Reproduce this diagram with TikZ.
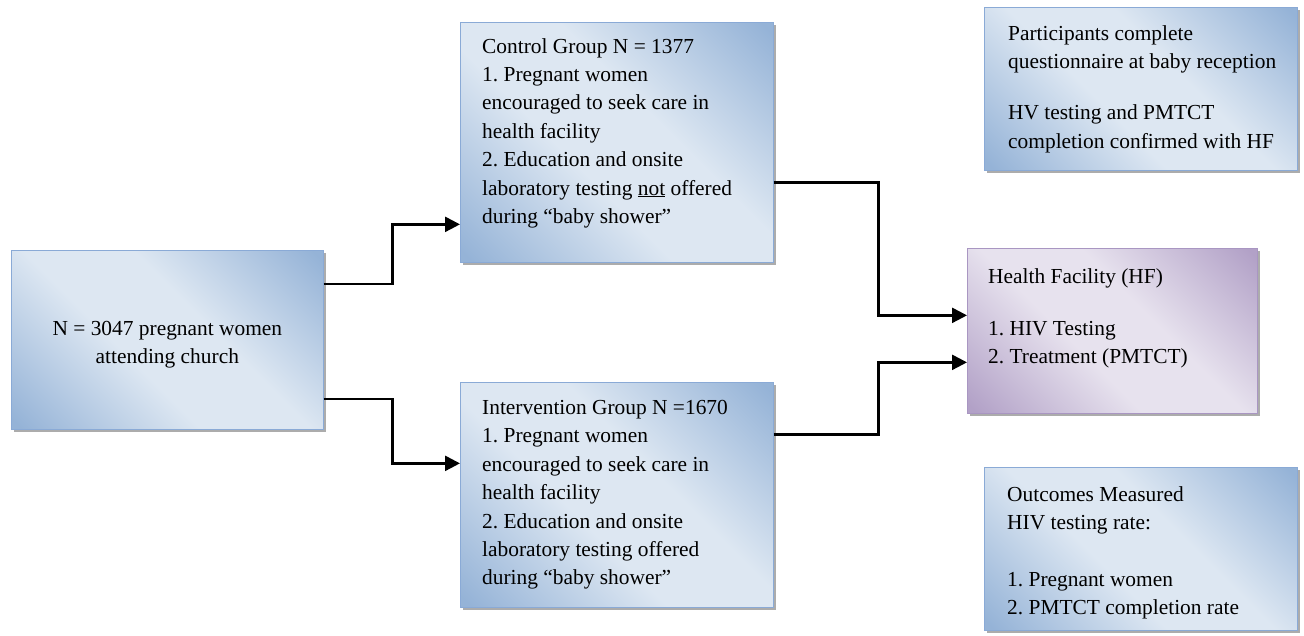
\documentclass[tikz,border=0pt]{standalone}
\usepackage{fontspec}
\setmainfont{Liberation Serif}
\usetikzlibrary{arrows.meta,shadows}
\frenchspacing
\definecolor{BDark}{HTML}{95B3D7}
\definecolor{BLight}{HTML}{DDE7F2}
\definecolor{BEdge}{HTML}{8AAAD6}
\definecolor{PDark}{HTML}{B2A1C7}
\definecolor{PLight}{HTML}{E7E2EE}
\definecolor{PEdge}{HTML}{A996C2}
\pgfdeclarehorizontalshading{bluegrad}{100bp}{color(0bp)=(BDark); color(16bp)=(BDark); color(42bp)=(BLight); color(58bp)=(BLight); color(84bp)=(BDark); color(100bp)=(BDark)}
\pgfdeclarehorizontalshading{purplegrad}{100bp}{color(0bp)=(PDark); color(16bp)=(PDark); color(42bp)=(PLight); color(58bp)=(PLight); color(84bp)=(PDark); color(100bp)=(PDark)}
\tikzset{
    box/.style = {rectangle, inner sep=0pt, line width=0.7pt,
        drop shadow={shadow xshift=3pt, shadow yshift=-3pt, fill=gray!65, opacity=1}},
    bluebox/.style = {box, draw=BEdge, shading=bluegrad, shading angle=45},
    purplebox/.style = {box, draw=PEdge, shading=purplegrad, shading angle=45},
    txt/.style = {inner sep=0pt, align=left, anchor=north west,
        font=\fontsize{21.4}{28.4}\selectfont},
    conn/.style = {draw, line width=2.5pt, -{Triangle[length=15pt,width=15pt]}}
}

\begin{document}
\begin{tikzpicture}[x=1pt,y=-1pt]
    \useasboundingbox (0,0) rectangle (1304,635);
    % boxes
    \node[bluebox, anchor=north west, minimum width=312pt, minimum height=179pt] (A) at (11,250) {};
    \node[bluebox, anchor=north west, minimum width=313pt, minimum height=240pt] (B) at (460,22) {};
    \node[bluebox, anchor=north west, minimum width=313pt, minimum height=225pt] (C) at (460,382) {};
    \node[bluebox, anchor=north west, minimum width=313pt, minimum height=163pt] (D) at (984,7) {};
    \node[purplebox, anchor=north west, minimum width=290pt, minimum height=165pt] (E) at (967,248) {};
    \node[bluebox, anchor=north west, minimum width=313pt, minimum height=163pt] (F) at (984,467) {};
    % texts
    \node[txt, anchor=center, align=center] (At) at ([yshift=-5pt]A.center)
        {N = 3047 pregnant women\\attending church};
    \node[txt] (Bt) at ([xshift=22pt,yshift=-16pt]B.north west)
        {Control Group N = 1377\\1. Pregnant women\\encouraged to seek care in\\health facility\\2. Education and onsite\\laboratory testing \underline{not} offered\\during “baby shower”};
    \node[txt] (Ct) at ([xshift=22pt,yshift=-18pt]C.north west)
        {Intervention Group N =1670\\1. Pregnant women\\encouraged to seek care in\\health facility\\2. Education and onsite\\laboratory testing offered\\during “baby shower”};
    \node[txt] (Dt) at ([xshift=24pt,yshift=-18pt]D.north west)
        {Participants complete\\questionnaire at baby reception\\[23pt]HV testing and PMTCT\\completion confirmed with HF};
    \node[txt] (Et) at ([xshift=21pt,yshift=-20pt]E.north west)
        {Health Facility (HF)\\[24pt]1. HIV Testing\\2. Treatment (PMTCT)};
    \node[txt] (Ft) at ([xshift=23pt,yshift=-19pt]F.north west)
        {Outcomes Measured\\HIV testing rate:\\[28.4pt]1. Pregnant women\\2. PMTCT completion rate};
    % connectors
    \draw[conn] ([yshift=56pt]A.east) -- ++(69,0) |- ([yshift=-82pt]B.west);
    \draw[conn] ([yshift=-59pt]A.east) -- ++(69,0) |- ([yshift=31.5pt]C.west);
    \draw[conn] ([yshift=-40pt]B.east) -- ++(105,0) |- ([yshift=15.5pt]E.west);
    \draw[conn] ([yshift=60.5pt]C.east) -- ++(105,0) |- ([yshift=-31.5pt]E.west);
\end{tikzpicture}
\end{document}
